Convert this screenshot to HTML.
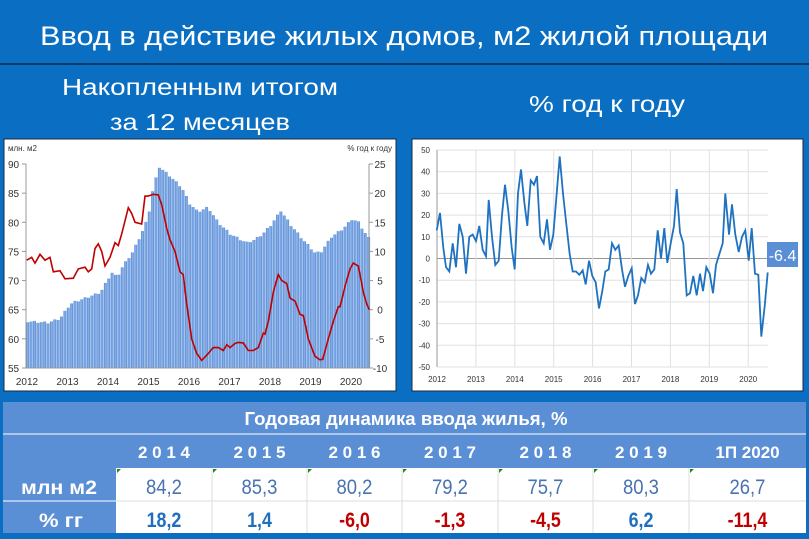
<!DOCTYPE html>
<html><head><meta charset="utf-8"><style>
html,body{margin:0;padding:0;background:#0a6fc2;}
svg{display:block}
text{font-family:"Liberation Sans","DejaVu Sans",sans-serif}
</style></head><body>
<svg id="s" width="809" height="539" viewBox="0 0 809 539" xmlns="http://www.w3.org/2000/svg">
<rect width="809" height="539" fill="#0a6fc2"/>
<line x1="0" y1="64" x2="809" y2="64" stroke="#0b3d6b" stroke-width="2"/>
<text x="404" y="45" fill="#fff" font-size="27" text-anchor="middle" textLength="728" lengthAdjust="spacingAndGlyphs">Ввод в действие жилых домов, м2 жилой площади</text>
<text x="200" y="95" fill="#fff" font-size="23" text-anchor="middle" textLength="276" lengthAdjust="spacingAndGlyphs">Накопленным итогом</text>
<text x="200" y="130" fill="#fff" font-size="23" text-anchor="middle" textLength="180" lengthAdjust="spacingAndGlyphs">за 12 месяцев</text>
<text x="607" y="112" fill="#fff" font-size="23" text-anchor="middle" textLength="156" lengthAdjust="spacingAndGlyphs">% год к году</text>
<rect x="4" y="139" width="392" height="252" fill="#fff" stroke="#1a2a40" stroke-width="1"/>
<rect x="412" y="139" width="391" height="252" fill="#fff" stroke="#1a2a40" stroke-width="1"/>
<defs><linearGradient id="bg" x1="0" y1="0" x2="1" y2="0"><stop offset="0" stop-color="#4f84d2"/><stop offset="0.5" stop-color="#8db4ea"/><stop offset="1" stop-color="#4f84d2"/></linearGradient></defs>
<g id="L"></g><g id="R"></g><g id="T"></g>
</svg>
<script>
var NS="http://www.w3.org/2000/svg";
function el(p,t,a,txt){var e=document.createElementNS(NS,t);for(var k in a)e.setAttribute(k,a[k]);if(txt!==undefined)e.textContent=txt;p.appendChild(e);return e;}
function interp(kf,t){for(var i=0;i<kf.length-1;i++){if(t>=kf[i][0]&&t<=kf[i+1][0]){var f=(t-kf[i][0])/(kf[i+1][0]-kf[i][0]);return kf[i][1]+f*(kf[i+1][1]-kf[i][1]);}}return kf[kf.length-1][1];}
var L=document.getElementById("L");
var x0=26,yr=40.5;
function ly(v){return 164+(90-v)*204/35;}
function ry(v){return 164+(25-v)*204/35;}
var bk=[[0,63],[0.5,62.8],[0.8,63.5],[1,65.5],[1.1,66.2],[1.5,67.2],[1.8,68],[2,70.5],[2.1,71.5],[2.2,70.5],[2.35,72.5],[2.6,75],[2.9,79.5],[3,82],[3.1,86],[3.25,89.5],[3.5,88],[3.8,86],[4,83.2],[4.2,81.8],[4.45,82.6],[4.7,80],[5,78],[5.4,76.5],[5.6,77],[5.8,78],[6,79.5],[6.25,82],[6.5,79.5],[6.8,77],[7,75.5],[7.1,74.7],[7.25,75],[7.5,77.5],[7.8,79],[8,80.5],[8.15,80.2],[8.3,78.5],[8.45,77],[8.55,76.8]];
for(var m=0;m<102;m++){var t=m/12;var v=interp(bk,t)+((m*7)%3-1)*0.15;var x=x0+m*yr/12;
el(L,"rect",{x:x+0.3,y:ly(v),width:2.9,height:368-ly(v),fill:"url(#bg)"});}
el(L,"line",{x1:26,y1:164,x2:26,y2:368,stroke:"#999","stroke-width":1});
el(L,"line",{x1:369,y1:164,x2:369,y2:368,stroke:"#999","stroke-width":1});
el(L,"line",{x1:26,y1:368,x2:369,y2:368,stroke:"#999","stroke-width":1});
for(var v=55;v<=90;v+=5){el(L,"text",{x:8,y:ly(v)+4,"font-size":10,fill:"#333"},v);el(L,"line",{x1:22,y1:ly(v),x2:26,y2:ly(v),stroke:"#999"});}
for(var v=-10;v<=25;v+=5){el(L,"text",{x:380,y:ry(v)+4,"font-size":10,fill:"#333","text-anchor":"middle"},v);el(L,"line",{x1:369,y1:ry(v),x2:373,y2:ry(v),stroke:"#999"});}
for(var y=0;y<=8;y++){el(L,"text",{x:x0+y*yr+1,y:385,"font-size":10,fill:"#333","text-anchor":"middle"},2012+y);}
el(L,"text",{x:8,y:151,"font-size":8,fill:"#333"},"млн. м2");
el(L,"text",{x:392,y:151,"font-size":8,fill:"#333","text-anchor":"end"},"% год к году");
var rp=[[80,8.5],[95,9],[105,8],[120,9.5],[135,8.5],[150,9],[160,6.5],[180,6.7],[195,5.3],[220,5.4],[235,7],[255,7.3],[265,6.5],[275,7],[285,10.5],[295,11.3],[305,10],[315,7.5],[330,9],[345,11.5],[355,11],[365,13],[385,17.5],[395,16.5],[405,15],[425,14.7],[435,19.5],[445,19.5],[460,19.8],[475,19.7],[485,18],[500,14],[510,12],[525,10],[540,6.5],[550,6],[560,1],[575,-5],[590,-7.5],[605,-8.7],[620,-7.8],[640,-6.5],[655,-6.5],[670,-7],[680,-6],[690,-6.5],[705,-5.8],[715,-5.6],[730,-5.7],[745,-7],[760,-7],[775,-6.5],[790,-4],[795,-4.2],[805,-2],[820,3],[835,6],[845,5],[860,4.5],[870,2],[885,1.5],[900,-0.8],[910,-1],[925,-5],[945,-8],[960,-8.6],[968,-8.5],[980,-6],[1000,-2],[1015,0.5],[1020,0.5],[1035,4],[1050,7],[1060,8],[1075,7.5],[1090,3],[1100,1],[1108,0]];
el(L,"polyline",{points:rp.map(function(p){return (p[0]/3).toFixed(1)+","+ry(p[1]).toFixed(1)}).join(" "),fill:"none",stroke:"#c00000","stroke-width":1.6});
var R=document.getElementById("R");
function yy(v){return 258.5-v*2.17;}
function xx(z){return 410+z/3;}
for(var v=-50;v<=50;v+=10){el(R,"line",{x1:437,y1:yy(v),x2:768,y2:yy(v),stroke:v==0?"#999":"#e0e0e0","stroke-width":1});
el(R,"text",{x:430,y:yy(v)+3,"font-size":8,fill:"#333","text-anchor":"end"},v);}
for(var y=0;y<=8;y++){var x=437+y*38.9;el(R,"line",{x1:x,y1:150,x2:x,y2:367,stroke:y==0?"#999":"#e0e0e0"});
el(R,"text",{x:x,y:382,"font-size":8,fill:"#333","text-anchor":"middle"},2012+y);}
var lp=[[80,13],[90,21],[100,5],[108,-4],[118,-6],[128,7],[138,-4],[148,16],[158,10],[168,-7],[178,10],[188,11],[198,8],[208,15],[218,4],[228,1],[236,27],[246,10],[256,-3],[266,-1],[276,20],[285,34],[295,22],[305,5],[314,-5],[324,30],[333,41],[343,26],[352,15],[362,36],[372,34],[381,38],[391,10],[401,7],[411,18],[420,4],[430,11],[440,30],[449,47],[459,30],[469,16],[479,2],[488,-6],[498,-6],[508,-7.5],[518,-5.5],[527,-12],[537,-1],[547,-8],[557,-11],[567,-23],[577,-15],[586,-6],[596,-5],[606,7],[616,4],[626,6],[636,-5],[645,-13],[655,-8],[665,-4.5],[675,-21],[684,-17],[694,-9],[704,-11],[714,-3],[723,-7],[733,-5],[743,13],[753,0],[763,14],[772,-2],[782,7],[792,15],[800,32],[810,12],[820,7],[830,-17],[840,-16],[850,-8],[860,-17],[870,-7],[879,-15],[889,-4],[899,-7],[909,-16],[918,-3],[928,2],[938,7],[946,30],[957,11],[966,25],[976,11],[986,3],[996,10],[1006,13],[1016,-1],[1025,14],[1035,-7],[1045,-7.5],[1054,-36],[1064,-22],[1073,-6.4]];
el(R,"polyline",{points:lp.map(function(p){return xx(p[0]).toFixed(1)+","+yy(p[1]).toFixed(1)}).join(" "),fill:"none",stroke:"#1f72c0","stroke-width":1.8});
el(R,"rect",{x:767,y:242,width:31,height:25,fill:"#5a8fd6"});
el(R,"text",{x:782.5,y:261,"font-size":16,fill:"#fff","text-anchor":"middle"},"-6.4");
var T=document.getElementById("T");
var cols=[3,116,212,307,402,498,593,689,806];
el(T,"rect",{x:3,y:402,width:803,height:66,fill:"#5b8fd5"});
el(T,"line",{x1:3,y1:434,x2:806,y2:434,stroke:"#fff","stroke-width":1});
el(T,"rect",{x:3,y:468,width:113,height:65,fill:"#5b8fd5"});
el(T,"rect",{x:116,y:468,width:690,height:65,fill:"#fff"});
el(T,"line",{x1:116,y1:501,x2:806,y2:501,stroke:"#ddd"});
el(T,"line",{x1:3,y1:501,x2:116,y2:501,stroke:"#fff"});
for(var i=2;i<8;i++)el(T,"line",{x1:cols[i],y1:468,x2:cols[i],y2:533,stroke:"#ddd"});
el(T,"text",{x:406,y:425,"font-size":18,"font-weight":"bold",fill:"#fff","text-anchor":"middle",textLength:323,lengthAdjust:"spacingAndGlyphs"},"Годовая динамика ввода жилья, %");
var yrs=["2 0 1 4","2 0 1 5","2 0 1 6","2 0 1 7","2 0 1 8","2 0 1 9","1П 2020"];
var a=["84,2","85,3","80,2","79,2","75,7","80,3","26,7"];
var b=["18,2","1,4","-6,0","-1,3","-4,5","6,2","-11,4"];
for(var i=0;i<7;i++){var cx=(cols[i+1]+cols[i+2])/2;
el(T,"text",{x:cx,y:458,"font-size":17,"font-weight":"bold",fill:"#fff","text-anchor":"middle"},yrs[i]);
var ta=el(T,"text",{x:cx,y:494,"font-size":21,fill:"#4a72b0","text-anchor":"middle"},a[i]);ta.setAttribute("transform","translate("+cx+",0) scale(0.88,1) translate("+(-cx)+",0)");
var tb=el(T,"text",{x:cx,y:527,"font-size":21,"font-weight":"bold",fill:b[i][0]=="-"?"#c00000":"#1f6fbf","text-anchor":"middle"},b[i]);tb.setAttribute("transform","translate("+cx+",0) scale(0.85,1) translate("+(-cx)+",0)");
el(T,"path",{d:"M"+(cols[i+1]+1)+" 469 l4 0 l-4 4 z",fill:"#1a8a1a"});}
el(T,"text",{x:59,y:494,"font-size":19,"font-weight":"bold",fill:"#fff","text-anchor":"middle",textLength:76,lengthAdjust:"spacingAndGlyphs"},"млн м2");
el(T,"text",{x:61,y:527,"font-size":19,"font-weight":"bold",fill:"#fff","text-anchor":"middle",textLength:44,lengthAdjust:"spacingAndGlyphs"},"% гг");
</script>
</body></html>
